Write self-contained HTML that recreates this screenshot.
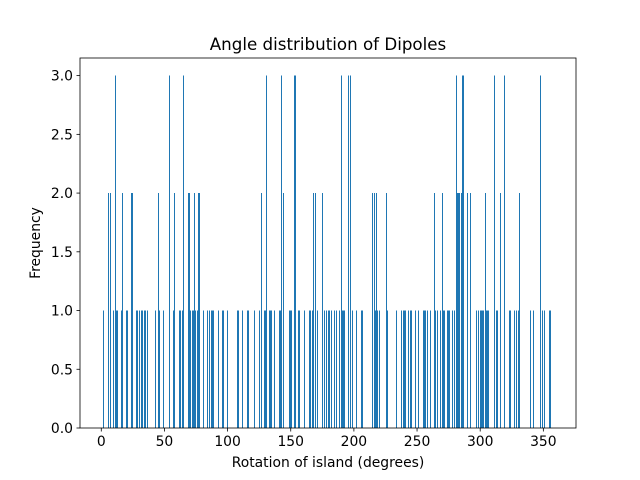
<!DOCTYPE html>
<html><head><meta charset="utf-8"><style>
body{margin:0;background:#fff;}
svg{display:block;font-family:"DejaVu Sans","Liberation Sans",sans-serif;}
</style></head><body>
<svg id="chart" width="640" height="480" xmlns="http://www.w3.org/2000/svg">
<rect width="640" height="480" fill="#fff"/>
<text x="328" y="50" font-size="16.7" text-anchor="middle">Angle distribution of Dipoles</text>
<g id="bars" shape-rendering="crispEdges"></g>
<g id="axes"></g>
<text x="328" y="467" font-size="13.9" text-anchor="middle">Rotation of island (degrees)</text>
<text x="0" y="0" font-size="13.9" text-anchor="middle" transform="translate(40,243) rotate(-90)">Frequency</text>
</svg>
<script>
const binAngles=[2,6,7,10,11,12,13,16,17,20,21,24,25,28,29,30,32,33,34,35,37,43,45,46,49,54,57,58,62,63,64,65,69,70,71,72,73,74,75,76,77,78,81,84,86,87,88,89,93,96,97,100,108,109,112,116,117,121,125,127,129,130,131,133,134,135,137,141,142,143,144,149,150,151,153,154,156,157,161,165,166,167,168,170,171,175,177,178,180,181,182,185,186,189,190,191,192,193,196,197,199,202,206,207,215,216,217,218,219,220,226,227,234,238,239,240,241,243,245,246,249,251,255,256,257,258,261,264,265,266,269,270,271,272,274,275,276,278,280,281,282,283,284,285,286,287,290,292,297,299,300,301,302,303,304,305,306,307,311,313,314,316,319,323,324,327,329,330,331,340,342,348,349,351,355,356];
const binCounts=[1,2,2,1,3,1,1,1,2,1,1,2,2,1,1,1,1,1,1,1,1,1,2,1,1,3,1,2,1,1,1,3,2,2,1,1,1,2,1,1,2,2,1,1,1,1,1,1,1,1,1,1,1,1,1,1,1,1,1,2,1,1,3,1,1,1,1,1,1,3,2,1,1,1,3,3,1,1,1,1,1,1,2,2,1,2,1,1,1,1,1,1,1,1,3,1,1,1,3,3,1,1,1,1,2,2,1,2,1,1,2,1,1,1,1,1,1,1,1,1,1,1,1,1,1,1,1,2,1,1,1,2,1,1,1,1,1,1,1,3,2,2,2,2,3,3,2,2,1,1,1,1,1,1,2,1,1,1,3,1,1,2,3,1,1,1,1,1,2,1,1,3,1,1,1,1];
const xTicks=[0,50,100,150,200,250,300,350];
const yTicks=[0,0.5,1,1.5,2,2.5,3];
const xMin=-16.85,xMax=375.85,yMin=0,yMax=3.15;
const L=80,R=576,T=58,B=428;
const NS="http://www.w3.org/2000/svg";
function xs(v){return L+(v-xMin)/(xMax-xMin)*(R-L);}
function ys(v){return B-(v-yMin)/(yMax-yMin)*(B-T);}
const bars=document.getElementById('bars');
binAngles.forEach((a,i)=>{
  const r=document.createElementNS(NS,'rect');
  const x0=xs(a-0.45),x1=xs(a+0.45);
  r.setAttribute('x',Math.round(x0));r.setAttribute('width',Math.max(1,Math.round(x1-x0)));
  r.setAttribute('y',ys(binCounts[i]));r.setAttribute('height',ys(0)-ys(binCounts[i]));
  r.setAttribute('fill','#1f77b4');
  
  
  bars.appendChild(r);
});
const ax=document.getElementById('axes');
const frame=document.createElementNS(NS,'rect');
frame.setAttribute('x',L);frame.setAttribute('y',T);frame.setAttribute('width',R-L);frame.setAttribute('height',B-T);
frame.setAttribute('fill','none');frame.setAttribute('stroke','#000');frame.setAttribute('stroke-width','0.8');


ax.appendChild(frame);
xTicks.forEach(t=>{
  const x=xs(t);
  const l=document.createElementNS(NS,'line');
  l.setAttribute('x1',x);l.setAttribute('x2',x);l.setAttribute('y1',B);l.setAttribute('y2',B+3.5);l.setAttribute('stroke','#000');l.setAttribute('stroke-width','0.8');
  
  
  ax.appendChild(l);
  const s=document.createElementNS(NS,'text');
  s.setAttribute('x',x);s.setAttribute('y',B+18);s.setAttribute('font-size','13.9');s.setAttribute('text-anchor','middle');
  s.textContent=t;
  
  
  ax.appendChild(s);
});
yTicks.forEach(t=>{
  const y=ys(t);
  const l=document.createElementNS(NS,'line');
  l.setAttribute('x1',L-3.5);l.setAttribute('x2',L);l.setAttribute('y1',y);l.setAttribute('y2',y);l.setAttribute('stroke','#000');l.setAttribute('stroke-width','0.8');
  
  
  ax.appendChild(l);
  const s=document.createElementNS(NS,'text');
  s.setAttribute('x',L-7);s.setAttribute('y',y+5);s.setAttribute('font-size','13.9');s.setAttribute('text-anchor','end');
  s.textContent=t.toFixed(1);
  
  
  ax.appendChild(s);
});
</script>
</body></html>
